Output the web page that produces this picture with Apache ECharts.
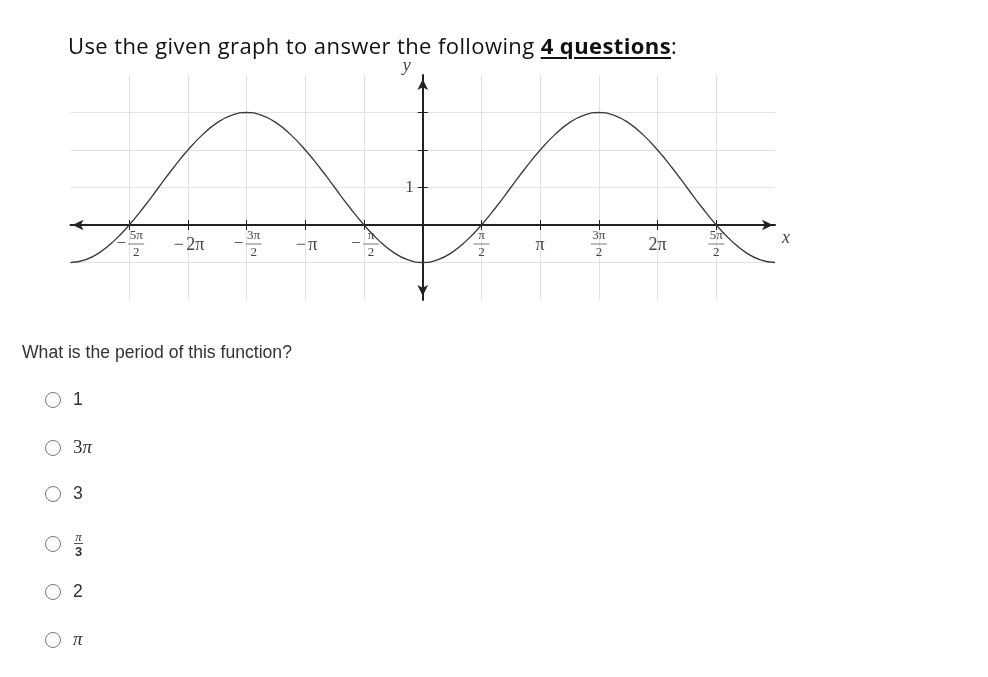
<!DOCTYPE html>
<html lang="en">
<head>
<meta charset="UTF-8">
<title>Period of the graphed function</title>
<style>
  html, body {
    width: 988px;
    height: 677px;
    margin: 0;
    padding: 0;
    background: #fff;
    overflow: hidden;
  }
  #main {
    position: absolute;
    left: 0;
    top: 0;
    width: 988px;
    height: 677px;
  }
  .txt {
    position: absolute;
    white-space: nowrap;
    z-index: 2;
  }
  #title {
    left: 68px;
    top: 30px;
    font-family: 'Open Sans', sans-serif;
    font-size: 22px;
    letter-spacing: 0.4px;
    color: #111;
  }
  #title b {
    text-decoration: underline;
    text-underline-offset: 3px;
  }
  #question {
    left: 22px;
    top: 342px;
    font-family: 'Liberation Sans', Arial, sans-serif;
    font-size: 17.6px;
    color: #333;
  }
  .opt {
    position: absolute;
    left: 45px;
    height: 20px;
    z-index: 2;
    font-family: 'Liberation Sans', Arial, sans-serif;
    font-size: 17.6px;
    color: #333;
  }
  .opt .dot {
    position: absolute;
    left: 0;
    top: 2px;
    width: 14px;
    height: 14px;
    border: 1px solid #777;
    border-radius: 50%;
  }
  .opt .lab {
    position: absolute;
    left: 28px;
    top: -1px;
    line-height: 20px;
    white-space: nowrap;
  }
  .math {
    font-family: 'Liberation Serif', serif;
    font-size: 19px;
  }
  .math i { font-style: italic; }
  .frac {
    display: inline-block;
    text-align: center;
    font-family: 'Liberation Serif', serif;
    font-size: 13px;
    line-height: 11px;
    vertical-align: middle;
  }
  .frac span { display: block; padding: 0 1px; }
  .frac .n { border-bottom: 1px solid #555; font-style: italic; padding-bottom: 1px; }
  .frac .d { font-family: 'Liberation Sans', Arial, sans-serif; font-weight: bold; padding-top: 2px; }
</style>
<script src="https://cdn.jsdelivr.net/npm/echarts@6.0.0/dist/echarts.min.js"></script>
</head>
<body>
<div id="main"></div>
<div class="txt" id="title">Use the given graph to answer the following <b>4 questions</b>:</div>
<div class="txt" id="question">What is the period of this function?</div>
<div class="opt" style="top:390px"><span class="dot"></span><span class="lab">1</span></div>
<div class="opt" style="top:438px"><span class="dot"></span><span class="lab math">3<i>π</i></span></div>
<div class="opt" style="top:484px"><span class="dot"></span><span class="lab">3</span></div>
<div class="opt" style="top:534px"><span class="dot"></span><span class="lab" style="left:29px;top:-3px"><span class="frac"><span class="n">π</span><span class="d">3</span></span></span></div>
<div class="opt" style="top:582px"><span class="dot"></span><span class="lab">2</span></div>
<div class="opt" style="top:630px"><span class="dot"></span><span class="lab math"><i>π</i></span></div>
<script>
  // x is measured in multiples of π
  const curveX = [-3, -2.875, -2.75, -2.625, -2.5, -2.375, -2.25, -2.125, -2, -1.875, -1.75, -1.625,
                  -1.5, -1.375, -1.25, -1.125, -1, -0.875, -0.75, -0.625, -0.5, -0.375, -0.25, -0.125,
                  0, 0.125, 0.25, 0.375, 0.5, 0.625, 0.75, 0.875, 1, 1.125, 1.25, 1.375,
                  1.5, 1.625, 1.75, 1.875, 2, 2.125, 2.25, 2.375, 2.5, 2.625, 2.75, 2.875, 3];
  const curveY = [-1, -0.93, -0.73, -0.41, 0, 0.48, 1, 1.52, 2, 2.41, 2.73, 2.93,
                  3, 2.93, 2.73, 2.41, 2, 1.52, 1, 0.48, 0, -0.41, -0.73, -0.93,
                  -1, -0.93, -0.73, -0.41, 0, 0.48, 1, 1.52, 2, 2.41, 2.73, 2.93,
                  3, 2.93, 2.73, 2.41, 2, 1.52, 1, 0.48, 0, -0.41, -0.73, -0.93, -1];

  const xTickValues = [-2.5, -2, -1.5, -1, -0.5, 0.5, 1, 1.5, 2, 2.5];
  const xTickLabels = ['-5π/2', '-2π', '-3π/2', '-π', '-π/2', 'π/2', 'π', '3π/2', '2π', '5π/2'];
  const yTickValues = [-1, 1, 2, 3];
  const yLabelValues = [1];

  var chart = echarts.init(document.getElementById('main'));

  var labelColor = '#444';
  var serif = 'Liberation Serif';
  var gridW = 988 - 70.5 - 213;
  var gridH = 225;

  function xLabel(value) {
    var i = xTickValues.indexOf(value);
    if (i < 0) return '';
    var s = xTickLabels[i];
    var neg = s.charAt(0) === '-';
    if (neg) s = s.slice(1);
    var parts = s.split('/');
    if (parts.length === 1) return (neg ? '{bm|−}' : '') + '{big|' + s + '}';
    var pad = neg ? '{gap| }' : '';
    var lead = neg ? '{m|−}' : '';
    return pad + '{num|' + parts[0] + '}\n' + lead + '{bar| }\n' + pad + '{den|' + parts[1] + '}';
  }

  var axisStroke = { color: '#222', width: 2 };
  var tickStroke = { color: '#222', width: 1 };
  var gridStroke = { color: '#e2e2e2', width: 1 };

  var option = {
    animation: false,
    grid: { left: 70.5, right: 213, top: 75, height: gridH },
    xAxis: [
      {
        type: 'value',
        min: -3,
        max: 3,
        interval: 0.5,
        position: 'bottom',
        offset: -gridH / 3,
        name: 'x',
        nameLocation: 'end',
        nameGap: 7,
        nameTextStyle: {
          fontFamily: serif, fontStyle: 'italic', fontSize: 18, color: labelColor,
          verticalAlign: 'top', padding: [4, 0, 0, 0]
        },
        axisLine: {
          onZero: false,
          lineStyle: axisStroke,
          symbol: ['arrow', 'arrow'],
          symbolSize: [8, 11],
          symbolOffset: [2, -2]
        },
        axisTick: { customValues: xTickValues, length: 5, lineStyle: tickStroke },
        axisLabel: {
          customValues: xTickValues,
          margin: 5,
          formatter: xLabel,
          color: labelColor,
          rich: {
            big: { fontFamily: serif, fontSize: 18, lineHeight: 30, color: labelColor },
            bm: { width: 15, fontFamily: serif, fontSize: 18, lineHeight: 30, color: labelColor },
            gap: { width: 14, fontSize: 1 },
            m: { width: 14, align: 'center', fontFamily: serif, fontSize: 17, lineHeight: 4, color: labelColor },
            num: { width: 17, align: 'center', fontFamily: serif, fontSize: 13, lineHeight: 12, color: labelColor },
            den: { width: 17, align: 'center', fontFamily: serif, fontSize: 13, lineHeight: 13, color: labelColor },
            bar: { width: 16, height: 1, fontSize: 1, lineHeight: 4, align: 'center', backgroundColor: '#777' }
          }
        },
        splitLine: { show: true, lineStyle: gridStroke }
      },
      {
        type: 'value',
        min: -3,
        max: 3,
        interval: 0.5,
        position: 'bottom',
        offset: -gridH / 3,
        axisLine: { show: false, onZero: false },
        axisTick: { show: true, inside: true, customValues: xTickValues, length: 5, lineStyle: tickStroke },
        axisLabel: { show: false },
        splitLine: { show: false }
      }
    ],
    yAxis: [
      {
        type: 'value',
        min: -2,
        max: 4,
        interval: 1,
        position: 'left',
        offset: -gridW / 2,
        name: 'y',
        nameLocation: 'end',
        nameGap: 0,
        nameTextStyle: {
          fontFamily: serif, fontStyle: 'italic', fontSize: 18, color: labelColor,
          padding: [0, 32, 0, 0]
        },
        axisLine: {
          onZero: false,
          lineStyle: axisStroke,
          symbol: ['arrow', 'arrow'],
          symbolSize: [8, 11],
          symbolOffset: [4, -4]
        },
        axisTick: { customValues: yTickValues, length: 5, lineStyle: tickStroke },
        axisLabel: {
          customValues: yLabelValues,
          margin: 9,
          fontFamily: serif,
          fontSize: 17,
          color: labelColor
        },
        splitLine: { show: true, lineStyle: gridStroke }
      },
      {
        type: 'value',
        min: -2,
        max: 4,
        interval: 1,
        position: 'left',
        offset: -gridW / 2,
        axisLine: { show: false, onZero: false },
        axisTick: { show: true, inside: true, customValues: yTickValues, length: 5, lineStyle: tickStroke },
        axisLabel: { show: false },
        splitLine: { show: false }
      }
    ],
    series: [
      {
        type: 'line',
        xAxisIndex: 0,
        yAxisIndex: 0,
        data: curveX.map(function (x, i) { return [x, curveY[i]]; }),
        smooth: 0.5,
        symbol: 'none',
        lineStyle: { color: '#3a3a3a', width: 1.3 },
        z: 3
      }
    ]
  };

  chart.setOption(option);
</script>
</body>
</html>
